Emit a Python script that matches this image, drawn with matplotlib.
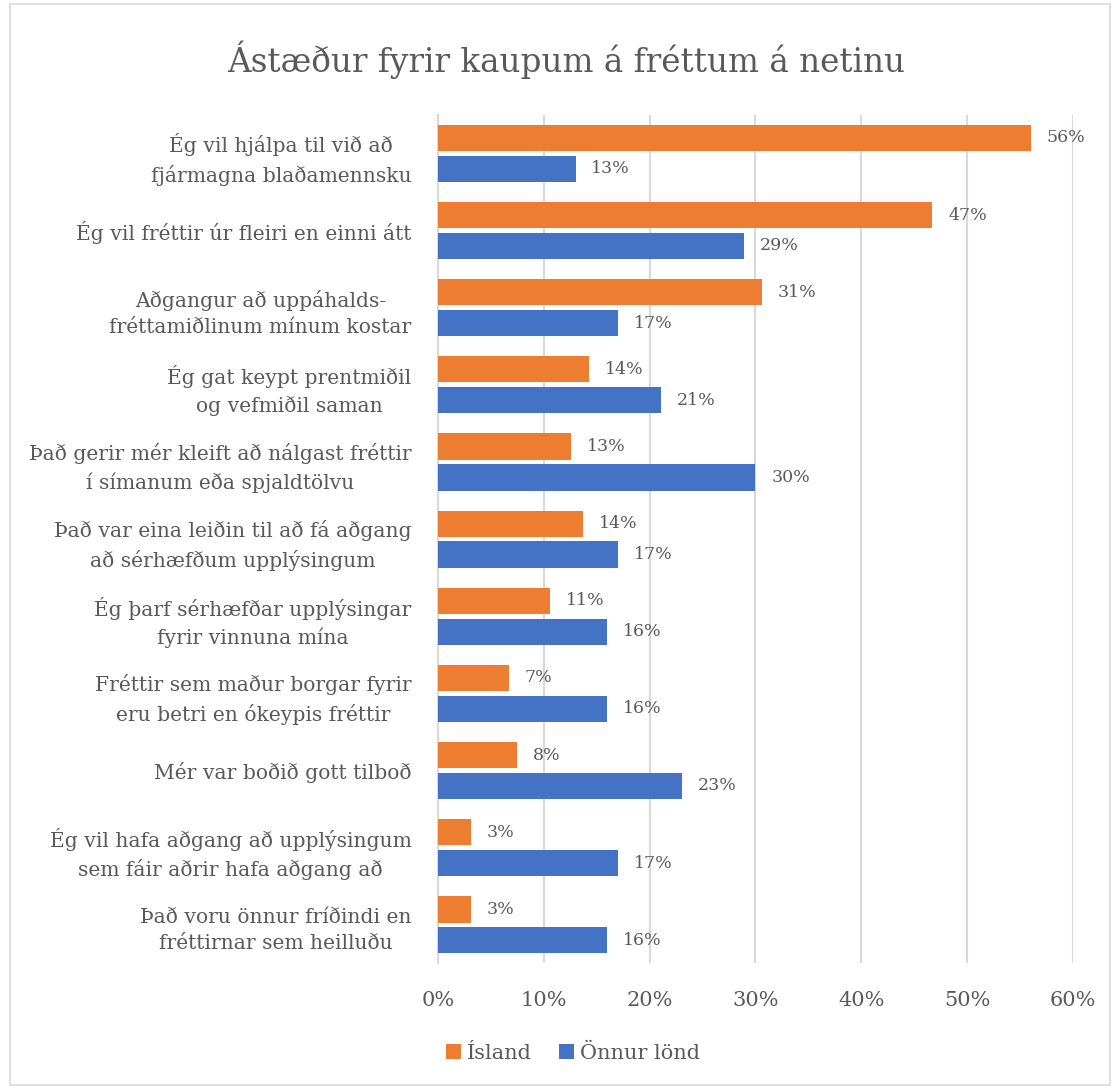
import numpy as np
import matplotlib.pyplot as plt
from matplotlib.patches import Rectangle

# Reasons for paying for online news, Iceland vs. other countries
categories = [
    "Ég vil hjálpa til við að\nfjármagna blaðamennsku",
    "Ég vil fréttir úr fleiri en einni átt",
    "Aðgangur að uppáhalds-\nfréttamiðlinum mínum kostar",
    "Ég gat keypt prentmiðil\nog vefmiðil saman",
    "Það gerir mér kleift að nálgast fréttir\ní símanum eða spjaldtölvu",
    "Það var eina leiðin til að fá aðgang\nað sérhæfðum upplýsingum",
    "Ég þarf sérhæfðar upplýsingar\nfyrir vinnuna mína",
    "Fréttir sem maður borgar fyrir\neru betri en ókeypis fréttir",
    "Mér var boðið gott tilboð",
    "Ég vil hafa aðgang að upplýsingum\nsem fáir aðrir hafa aðgang að",
    "Það voru önnur fríðindi en\nfréttirnar sem heilluðu",
]
island = [56.0, 46.7, 30.6, 14.3, 12.6, 13.7, 10.6, 6.7, 7.5, 3.1, 3.1]
onnur = [13.0, 28.9, 17.0, 21.1, 30.0, 17.0, 16.0, 16.0, 23.1, 17.0, 16.0]
x_ticks = [0, 10, 20, 30, 40, 50, 60]

ORANGE = '#ED7D31'
BLUE = '#4472C4'
TEXT = '#595959'
GRID = '#D9D9D9'

plt.rcParams['font.family'] = ['DejaVu Serif']

fig = plt.figure(figsize=(11.13, 10.88), dpi=100)
ax = fig.add_axes([0.3935, 0.1145, 0.5705, 0.780])

# Outer chart border
fig.patches.append(Rectangle((0.009, 0.003), 0.988, 0.993, transform=fig.transFigure,
                             fill=False, edgecolor=GRID, linewidth=1.2))

y = np.arange(len(categories))
h = 0.34
ax.barh(y - 0.2, island, height=h, color=ORANGE, label='Ísland', zorder=3)
ax.barh(y + 0.2, onnur, height=h, color=BLUE, label='Önnur lönd', zorder=3)

for yi, v in zip(y, island):
    ax.text(v + 1.5, yi - 0.2, f'{v:.0f}%', va='center', ha='left', fontsize=12.5, color=TEXT)
for yi, v in zip(y, onnur):
    ax.text(v + 1.5, yi + 0.2, f'{v:.0f}%', va='center', ha='left', fontsize=12.5, color=TEXT)

ax.set_ylim(len(categories) - 0.5, -0.5)
ax.set_xlim(0, 60)
ax.set_yticks(y)
ax.set_yticklabels(categories, fontsize=14.6, color=TEXT, multialignment='center',
                   linespacing=1.5)
ax.set_xticks(x_ticks)
ax.set_xticklabels([f'{t}%' for t in x_ticks], fontsize=15, color=TEXT)
ax.tick_params(axis='both', length=0)
ax.tick_params(axis='x', pad=20)
ax.tick_params(axis='y', pad=19)

ax.grid(axis='x', color=GRID, linewidth=1.5, zorder=0)
for s in ['top', 'right', 'bottom']:
    ax.spines[s].set_visible(False)
ax.spines['left'].set_color(GRID)
ax.spines['left'].set_linewidth(1.5)

fig.suptitle('Ástæður fyrir kaupum á fréttum á netinu', x=0.509, y=0.945, va='center',
             fontsize=23.5, color=TEXT)

fig.legend(loc='center', bbox_to_anchor=(0.515, 0.032), ncol=2, frameon=False,
           fontsize=15, labelcolor=TEXT, handlelength=0.7, handleheight=0.7,
           handletextpad=0.3, columnspacing=1.3)

fig.savefig('out.png', dpi=100)
